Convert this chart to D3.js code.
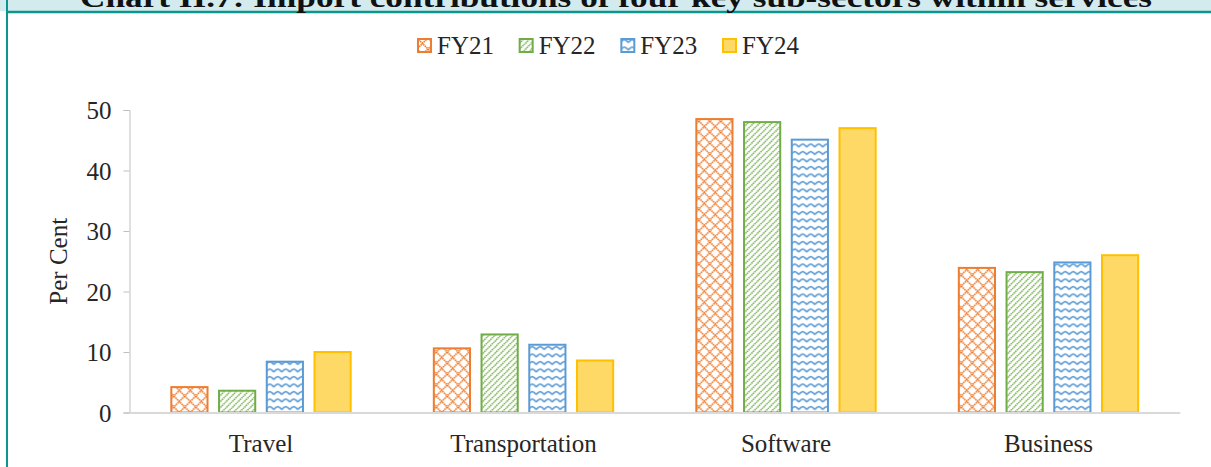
<!DOCTYPE html>
<html>
<head>
<meta charset="utf-8">
<script src="https://cdn.jsdelivr.net/npm/d3@7"></script>
<style>
  html, body { margin: 0; padding: 0; background: #ffffff; }
  svg { display: block; }
  text { font-family: "Liberation Serif", "Times New Roman", serif; fill: #262626; }
</style>
</head>
<body>
<svg id="chart" width="1211" height="467"></svg>
<script>
// ---- Data ----
const title = "Chart II.7: Import contributions of four key sub-sectors within services";
const categories = ["Travel", "Transportation", "Software", "Business"];
const seriesNames = ["FY21", "FY22", "FY23", "FY24"];
const fy21 = [4.2, 10.6, 48.5, 23.9];
const fy22 = [3.6, 12.9, 48.0, 23.2];
const fy23 = [8.4, 11.2, 45.1, 24.8];
const fy24 = [10.0, 8.6, 47.0, 26.0];
const yTicks = [0, 10, 20, 30, 40, 50];
const yLabel = "Per Cent";

const seriesValues = [fy21, fy22, fy23, fy24];
const colors = ["#ED7D31", "#70AD47", "#5B9BD5", "#FFC000"];

const svg = d3.select("#chart");

// ---- Frame / title band ----
svg.append("rect").attr("x", 0).attr("y", 0).attr("width", 1211).attr("height", 11)
  .attr("fill", "#d3ebef");
svg.append("line").attr("x1", 6).attr("x2", 1211).attr("y1", 12).attr("y2", 12)
  .attr("stroke", "#0a968b").attr("stroke-width", 2.5);
svg.append("line").attr("x1", 7).attr("x2", 7).attr("y1", 0).attr("y2", 467)
  .attr("stroke", "#0a968b").attr("stroke-width", 2);
svg.append("text").attr("x", 80).attr("y", 7)
  .attr("textLength", 1072).attr("lengthAdjust", "spacingAndGlyphs")
  .style("font-size", "27px").style("font-weight", "bold").style("fill", "#111")
  .text(title);

// ---- Patterns ----
const defs = svg.append("defs");
// FY21: diagonal cross (diamonds)
const p1 = defs.append("pattern").attr("id", "pat0").attr("patternUnits", "userSpaceOnUse")
  .attr("width", 11).attr("height", 11);
p1.append("rect").attr("width", 11).attr("height", 11).attr("fill", "#fff");
p1.append("path").attr("d", "M0,0L11,11M11,0L0,11")
  .attr("stroke", colors[0]).attr("stroke-width", 1.6).attr("stroke-dasharray", "1.6,0.6");
// FY22: forward diagonal lines
const p2 = defs.append("pattern").attr("id", "pat1").attr("patternUnits", "userSpaceOnUse")
  .attr("width", 6).attr("height", 6);
p2.append("rect").attr("width", 6).attr("height", 6).attr("fill", "#fff");
p2.append("path").attr("d", "M-1,7L7,-1M-1,1L1,-1M5,7L7,5")
  .attr("stroke", colors[1]).attr("stroke-width", 1.5).attr("stroke-dasharray", "1.5,0.7");
// FY23: waves
const p3 = defs.append("pattern").attr("id", "pat2").attr("patternUnits", "userSpaceOnUse")
  .attr("width", 8).attr("height", 7.5);
p3.append("rect").attr("width", 8).attr("height", 7.5).attr("fill", "#fff");
p3.append("path").attr("d", "M0,4.5L2,2.5L4,1.5L6,2.5L8,4.5")
  .attr("fill", "none").attr("stroke", colors[2]).attr("stroke-width", 1.6);
const fills = ["url(#pat0)", "url(#pat1)", "url(#pat2)", "#FFD966"];

// ---- Scales ----
const x0 = d3.scaleBand().domain(categories).range([129.75, 1179.75]).padding(0);
const x1 = d3.scaleBand().domain(seriesNames).range([0, x0.bandwidth()])
  .paddingInner(0.2).paddingOuter(0.85);
const y = d3.scaleLinear().domain([0, 50]).range([412.5, 110]);

// ---- Y axis ----
const yAxis = svg.append("g").attr("transform", "translate(129.5,0)")
  .call(d3.axisLeft(y).tickValues(yTicks).tickSize(6).tickPadding(12).tickFormat(d3.format("d")));
yAxis.select(".domain").attr("stroke", "#bfbfbf");
yAxis.selectAll(".tick line").attr("stroke", "#bfbfbf");
yAxis.selectAll(".tick text").style("font-size", "25px").style("font-family", "Liberation Serif")
  .attr("fill", "#262626").attr("dy", "0.35em");

svg.append("text")
  .attr("transform", `translate(67,${y(25)}) rotate(-90)`)
  .attr("text-anchor", "middle")
  .style("font-size", "25px")
  .text(yLabel);

// ---- Bars ----
const groups = svg.append("g").selectAll("g").data(categories).join("g")
  .attr("transform", d => `translate(${x0(d)},0)`);
groups.selectAll("rect")
  .data((c, ci) => seriesNames.map((s, si) => ({ s, si, v: seriesValues[si][ci] })))
  .join("rect")
  .attr("x", d => x1(d.s) + 1)
  .attr("width", x1.bandwidth() - 2)
  .attr("y", d => y(d.v))
  .attr("height", d => y(0) - y(d.v))
  .attr("fill", d => fills[d.si])
  .attr("stroke", d => colors[d.si])
  .attr("stroke-width", 2);

// ---- X axis ----
const xAxis = svg.append("g").attr("transform", `translate(0,${y(0)})`)
  .call(d3.axisBottom(x0).tickSize(0).tickPadding(22));
xAxis.select(".domain").attr("stroke", "#d9d9d9").attr("stroke-width", 2);
xAxis.selectAll(".tick text").style("font-size", "25px").style("font-family", "Liberation Serif")
  .attr("fill", "#262626");

// ---- Legend ----
const legend = svg.append("g");
const legendX = d3.scalePoint().domain(seriesNames).range([417, 722]);
const li = legend.selectAll("g").data(seriesNames).join("g")
  .attr("transform", d => `translate(${legendX(d)},38)`);
li.append("rect").attr("x", 1).attr("y", 1).attr("width", 13).attr("height", 13)
  .attr("fill", (d, i) => fills[i]).attr("stroke", (d, i) => colors[i]).attr("stroke-width", 2);
li.append("text").attr("x", 20).attr("y", 16).style("font-size", "25px").text(d => d);
</script>
</body>
</html>
